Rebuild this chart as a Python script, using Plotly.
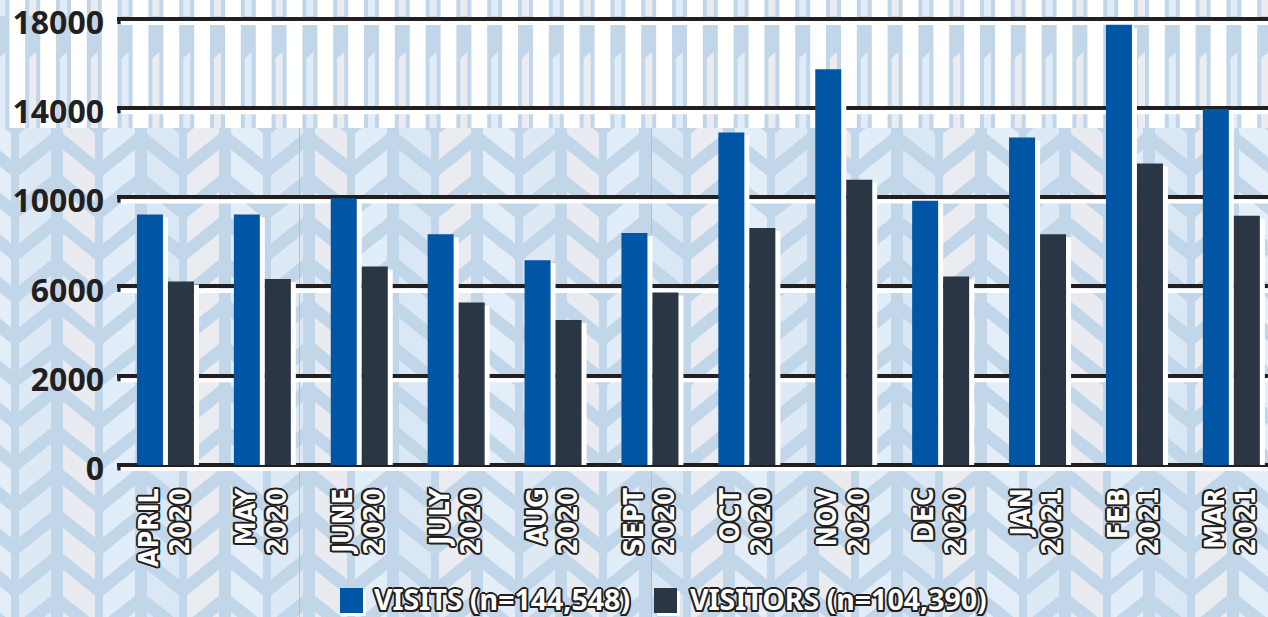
import plotly.graph_objects as go

# ---- data -------------------------------------------------------------
months = ["APRIL", "MAY", "JUNE", "JULY", "AUG", "SEPT",
          "OCT", "NOV", "DEC", "JAN", "FEB", "MAR"]
years = ["2020", "2020", "2020", "2020", "2020", "2020",
         "2020", "2020", "2020", "2021", "2021", "2021"]
visits = [10100, 10100, 10750, 9300, 8250, 9350,
          13400, 15950, 10650, 13200, 17750, 14350]
visitors = [7400, 7500, 8000, 6550, 5850, 6950,
            9550, 11500, 7600, 9300, 12150, 10050]
y_tick_vals = [0, 3600, 7200, 10800, 14400, 18000]
y_tick_text = ["0", "2000", "6000", "10000", "14000", "18000"]
series_names = ["VISITS (n=144,548)", "VISITORS (n=104,390)"]

# ---- geometry / style -------------------------------------------------
W, H = 1268, 617
PL, PR = 117, W            # plot area left/right (px)
PT, PB = 0, 471            # plot area top/bottom (px)
PW, PH = PR - PL, PB - PT
ZERO_PX = 465              # pixel row of the value 0
PX_PER_UNIT = 446.5 / 18000
Y_MIN = -(PB - ZERO_PX) / PX_PER_UNIT
Y_MAX = (ZERO_PX - PT) / PX_PER_UNIT
CAT_PX = 96.9
X_MIN = -0.5
X_MAX = X_MIN + PW / CAT_PX

BLUE = "#0055a4"
DARK = "#2b3644"
INK = "#231f20"
BASE = "#c2d6e9"

BAR_W = 26 / CAT_PX
SHADOW_DX = 5 / CAT_PX
SHADOW_DROP = 3 / PX_PER_UNIT

OUTLINE = ", ".join(
    f"{dx}px {dy}px 0 {INK}"
    for dx, dy in [(-2, 0), (2, 0), (0, -2), (0, 2),
                   (-1.5, -1.5), (1.5, -1.5), (-1.5, 1.5), (1.5, 1.5)]
)


def px(x, y):
    """Convert pixel position to paper coordinates."""
    return (x - PL) / PW, (PB - y) / PH


def poly_path(polys):
    parts = []
    for poly in polys:
        pts = [px(x, y) for x, y in poly]
        parts.append("M" + "L".join(f"{a:.5f},{b:.5f}" for a, b in pts) + "Z")
    return "".join(parts)


shapes = []

# ---- chevron background -----------------------------------------------
col_colors = ["#dde9f5", "#e9ebf0", "#e1edf8", "#dae7f4", "#ebecf1", "#e3eef8"]
gaps = [15 + 42 * k for k in range(-1, 32)]
gap_w = [12 if (k % 2) else 8 for k in range(-1, 32)]
by_color = {c: [] for c in col_colors}
for i in range(len(gaps) - 1):
    k = i - 1
    left = gaps[i] + gap_w[i] / 2
    right = gaps[i + 1] - gap_w[i + 1] / 2
    spine = gaps[i] if (k % 2) else gaps[i + 1]
    color = col_colors[(k + 6) % 6]
    for j in range(-2, 13):
        y0 = 145 + 42 * j
        yl = y0 + 0.8 * abs(left - spine)
        yr = y0 + 0.8 * abs(right - spine)
        by_color[color].append([(left, yl), (right, yr), (right, yr + 26), (left, yl + 26)])
for c, polys in by_color.items():
    shapes.append(dict(type="path", xref="paper", yref="paper", layer="below",
                       path=poly_path(polys), fillcolor=c, line=dict(width=0)))

# ---- striped band across the top ---------------------------------------
x0p, y0p = px(0, 0)
x1p, y1p = px(W, 128)
shapes.append(dict(type="rect", xref="paper", yref="paper", layer="below",
                   x0=x0p, x1=x1p, y0=y1p, y1=y0p, fillcolor="white", line=dict(width=0)))
stripes, inner_a, inner_b = [], [], []
for k in range(0, 43):
    xs = -5.6 + 30.8 * k
    stripes.append([(xs, 0), (xs + 15, 0), (xs + 15, 128), (xs, 128)])
    target = inner_a if k % 2 == 0 else inner_b
    target.append([(xs + 4, 0), (xs + 11, 0), (xs + 11, 16), (xs + 4, 16)])
    target.append([(xs + 4, 58), (xs + 11, 52), (xs + 11, 128), (xs + 4, 128)])
shapes.append(dict(type="path", xref="paper", yref="paper", layer="below",
                   path=poly_path(stripes), fillcolor=BASE, line=dict(width=0)))
shapes.append(dict(type="path", xref="paper", yref="paper", layer="below",
                   path=poly_path(inner_a), fillcolor="#e0ecf7", line=dict(width=0)))
shapes.append(dict(type="path", xref="paper", yref="paper", layer="below",
                   path=poly_path(inner_b), fillcolor="#ebecf1", line=dict(width=0)))

# thin tile seams
for sx in (299.5, 651.5):
    a, b0 = px(sx, 128)
    _, b1 = px(sx, H)
    shapes.append(dict(type="line", xref="paper", yref="paper", layer="below",
                       x0=a, x1=a, y0=b0, y1=b1, line=dict(color="#a6c1db", width=1)))

# ---- white drop shadow under each grid line ------------------------------
for tv in y_tick_vals:
    ys = tv - 4.3 / PX_PER_UNIT
    shapes.append(dict(type="line", xref="paper", yref="y", layer="below",
                       x0=px(121, 0)[0], x1=1, y0=ys, y1=ys,
                       line=dict(color="white", width=4.4)))
    shapes.append(dict(type="rect", xref="paper", yref="y", layer="below",
                       x0=px(117.3, 0)[0], x1=px(120.5, 0)[0],
                       y0=tv - 5.5 / PX_PER_UNIT, y1=tv, fillcolor=INK, line=dict(width=0)))

# ---- legend swatches ----------------------------------------------------
legend_items = [(340, BLUE, 373, series_names[0]), (654, DARK, 689, series_names[1])]
annotations = []
for sx, color, tx, name in legend_items:
    a0, b0 = px(sx + 3, 591)
    a1, b1 = px(sx + 26, 616)
    shapes.append(dict(type="rect", xref="paper", yref="paper", layer="above",
                       x0=a0, x1=a1, y0=b1, y1=b0, fillcolor="white", line=dict(width=0)))
    a0, b0 = px(sx, 588)
    a1, b1 = px(sx + 23, 613)
    shapes.append(dict(type="rect", xref="paper", yref="paper", layer="above",
                       x0=a0, x1=a1, y0=b1, y1=b0, fillcolor=color, line=dict(width=0)))
    ax, ay = px(tx, 598.5)
    annotations.append(dict(xref="paper", yref="paper", x=ax, y=ay, xanchor="left",
                            yanchor="middle", showarrow=False, text=name, borderpad=0,
                            font=dict(family="Noto Sans", size=28.5, color="white",
                                      weight="bold", shadow=OUTLINE)))

# ---- bars ---------------------------------------------------------------
xs = list(range(len(months)))
fig = go.Figure()
fig.add_trace(go.Bar(x=xs, y=[v - SHADOW_DROP for v in visits], offset=-28.5 / CAT_PX + SHADOW_DX,
                     width=BAR_W, marker=dict(color="white", line=dict(width=0)),
                     hoverinfo="skip", showlegend=False))
fig.add_trace(go.Bar(x=xs, y=[v - SHADOW_DROP for v in visitors], offset=2.5 / CAT_PX + SHADOW_DX,
                     width=BAR_W, marker=dict(color="white", line=dict(width=0)),
                     hoverinfo="skip", showlegend=False))
fig.add_trace(go.Bar(x=xs, y=visits, offset=-28.5 / CAT_PX, width=BAR_W, name=series_names[0],
                     marker=dict(color=BLUE, line=dict(width=0))))
fig.add_trace(go.Bar(x=xs, y=visitors, offset=2.5 / CAT_PX, width=BAR_W, name=series_names[1],
                     marker=dict(color=DARK, line=dict(width=0))))
# carrier for the second row of month labels
fig.add_trace(go.Scatter(x=xs, y=[None] * len(xs), xaxis="x2", mode="markers",
                         hoverinfo="skip", showlegend=False))

label_font = dict(family="DejaVu Sans Condensed, Noto Sans", size=26.5, color="white",
                  weight="bold", shadow=OUTLINE)
common_x = dict(range=[X_MIN, X_MAX], tickmode="array", tickvals=xs, tickangle=-90,
                showgrid=False, zeroline=False, showline=False, ticks="",
                tickfont=label_font, ticklabelstandoff=11, fixedrange=True)

fig.update_layout(
    width=W, height=H,
    margin=dict(l=PL, r=W - PR, t=PT, b=H - PB, pad=0, autoexpand=False),
    paper_bgcolor=BASE, plot_bgcolor="rgba(0,0,0,0)",
    barmode="overlay", showlegend=False,
    xaxis=dict(ticktext=months, ticklabelshift=-16, **common_x),
    xaxis2=dict(ticktext=years, ticklabelshift=15, overlaying="x", side="bottom",
                anchor="y", **common_x),
    yaxis=dict(range=[Y_MIN, Y_MAX], tickmode="array", tickvals=y_tick_vals,
               ticktext=y_tick_text, showgrid=True, gridcolor=INK, gridwidth=3.6,
               zeroline=False, showline=False, ticks="", ticklabelstandoff=12,
               ticklabelshift=4, ticklabeloverflow="allow",
               tickfont=dict(family="Noto Sans", size=32, color=INK, weight="bold"),
               fixedrange=True),
    shapes=shapes,
    annotations=annotations,
)

fig.write_html("out.html")
